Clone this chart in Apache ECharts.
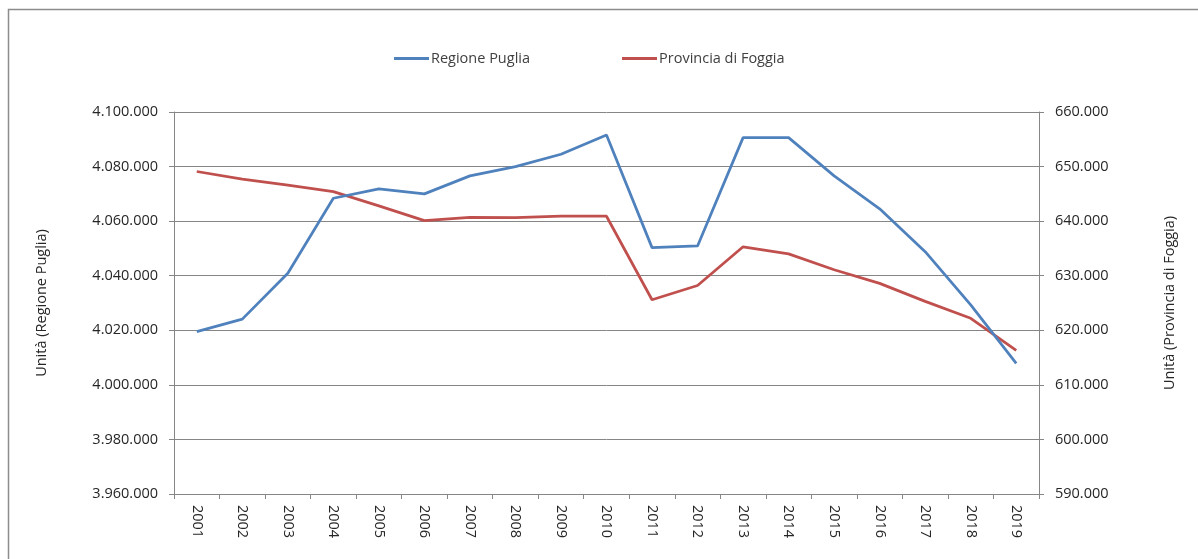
<!DOCTYPE html>
<html>
<head>
<meta charset="utf-8">
<script src="https://cdn.jsdelivr.net/npm/echarts@6/dist/echarts.min.js"></script>
<style>
  html, body { margin: 0; padding: 0; background: #fff; }
  #chart { width: 1198px; height: 559px; }
</style>
</head>
<body>
<div id="chart"></div>
<script>
// Anni
const years = ['2001','2002','2003','2004','2005','2006','2007','2008','2009','2010',
               '2011','2012','2013','2014','2015','2016','2017','2018','2019'];

// Popolazione residente - Regione Puglia (asse sinistro)
const puglia = [4019500, 4024100, 4040900, 4068400, 4071800, 4070000, 4076600, 4080000,
                4084500, 4091600, 4050300, 4050900, 4090600, 4090600, 4076600, 4064500,
                4048800, 4029300, 4007900];

// Popolazione residente - Provincia di Foggia (asse destro)
const foggia = [649100, 647700, 646600, 645400, 642800, 640100, 640700, 640650,
                640900, 640900, 625600, 628200, 635300, 634000, 631100, 628600,
                625300, 622200, 616300];

// Estremi e passo dei tick
const leftTicks = { min: 3960000, max: 4100000, step: 20000 };
const rightTicks = { min: 590000, max: 660000, step: 10000 };

// Separatore delle migliaia all'italiana
const fmt = v => Math.round(v).toString().replace(/\B(?=(\d{3})+(?!\d))/g, '.');

const FONT = 'Open Sans';
const FS = 14.5;
const AXIS_GRAY = '#868686';
const TEXT = '#262626';

const chart = echarts.init(document.getElementById('chart'), null, { renderer: 'canvas' });

chart.setOption({
  animation: false,
  backgroundColor: '#ffffff',
  textStyle: { fontFamily: FONT },
  graphic: [
    {
      // cornice esterna del grafico
      type: 'polyline',
      shape: { points: [[8.5, 600], [8.5, 9.5], [1210, 9.5]] },
      style: { stroke: '#8c8c8c', lineWidth: 1.5, fill: null }
    }
  ],
  legend: {
    top: 51,
    left: 394,
    padding: 0,
    itemGap: 92,
    itemWidth: 35,
    itemHeight: 3,
    icon: 'rect',
    textStyle: { fontFamily: FONT, fontSize: FS, color: '#404040', padding: [0, 0, 0, -3] },
    data: ['Regione Puglia', 'Provincia di Foggia']
  },
  grid: { left: 174, right: 159, top: 112, bottom: 65, containLabel: false },
  xAxis: {
    type: 'category',
    data: years,
    boundaryGap: true,
    axisLine: { lineStyle: { color: AXIS_GRAY, width: 1 } },
    axisTick: { show: true, alignWithLabel: false, length: 5, lineStyle: { color: AXIS_GRAY } },
    axisLabel: { rotate: -90, margin: 11, fontFamily: FONT, fontSize: FS, color: TEXT, interval: 0 },
    splitLine: { show: false }
  },
  yAxis: [
    {
      type: 'value',
      position: 'left',
      min: leftTicks.min,
      max: leftTicks.max,
      interval: leftTicks.step,
      name: 'Unità (Regione Puglia)',
      nameLocation: 'middle',
      nameGap: 125,
      nameRotate: 90,
      nameTextStyle: { fontFamily: FONT, fontSize: FS, color: TEXT },
      axisLine: { show: true, lineStyle: { color: AXIS_GRAY } },
      axisTick: { show: true, length: 5, lineStyle: { color: AXIS_GRAY } },
      axisLabel: { formatter: fmt, margin: 16, fontFamily: FONT, fontSize: FS, color: TEXT },
      splitLine: { show: true, lineStyle: { color: AXIS_GRAY, width: 1 } }
    },
    {
      type: 'value',
      position: 'right',
      min: rightTicks.min,
      max: rightTicks.max,
      interval: rightTicks.step,
      name: 'Unità (Provincia di Foggia)',
      nameLocation: 'middle',
      nameGap: 123,
      nameRotate: 90,
      nameTextStyle: { fontFamily: FONT, fontSize: FS, color: TEXT },
      axisLine: { show: true, lineStyle: { color: AXIS_GRAY } },
      axisTick: { show: true, length: 5, lineStyle: { color: AXIS_GRAY } },
      axisLabel: { formatter: fmt, margin: 16, fontFamily: FONT, fontSize: FS, color: TEXT },
      splitLine: { show: false }
    }
  ],
  series: [
    {
      name: 'Regione Puglia',
      type: 'line',
      yAxisIndex: 0,
      data: puglia,
      showSymbol: false,
      symbol: 'none',
      color: '#4F81BD',
      lineStyle: { color: '#4F81BD', width: 2.75 },
      z: 3
    },
    {
      name: 'Provincia di Foggia',
      type: 'line',
      yAxisIndex: 1,
      data: foggia,
      showSymbol: false,
      symbol: 'none',
      color: '#C0504D',
      lineStyle: { color: '#C0504D', width: 2.75 },
      z: 2
    }
  ]
});
</script>
</body>
</html>
